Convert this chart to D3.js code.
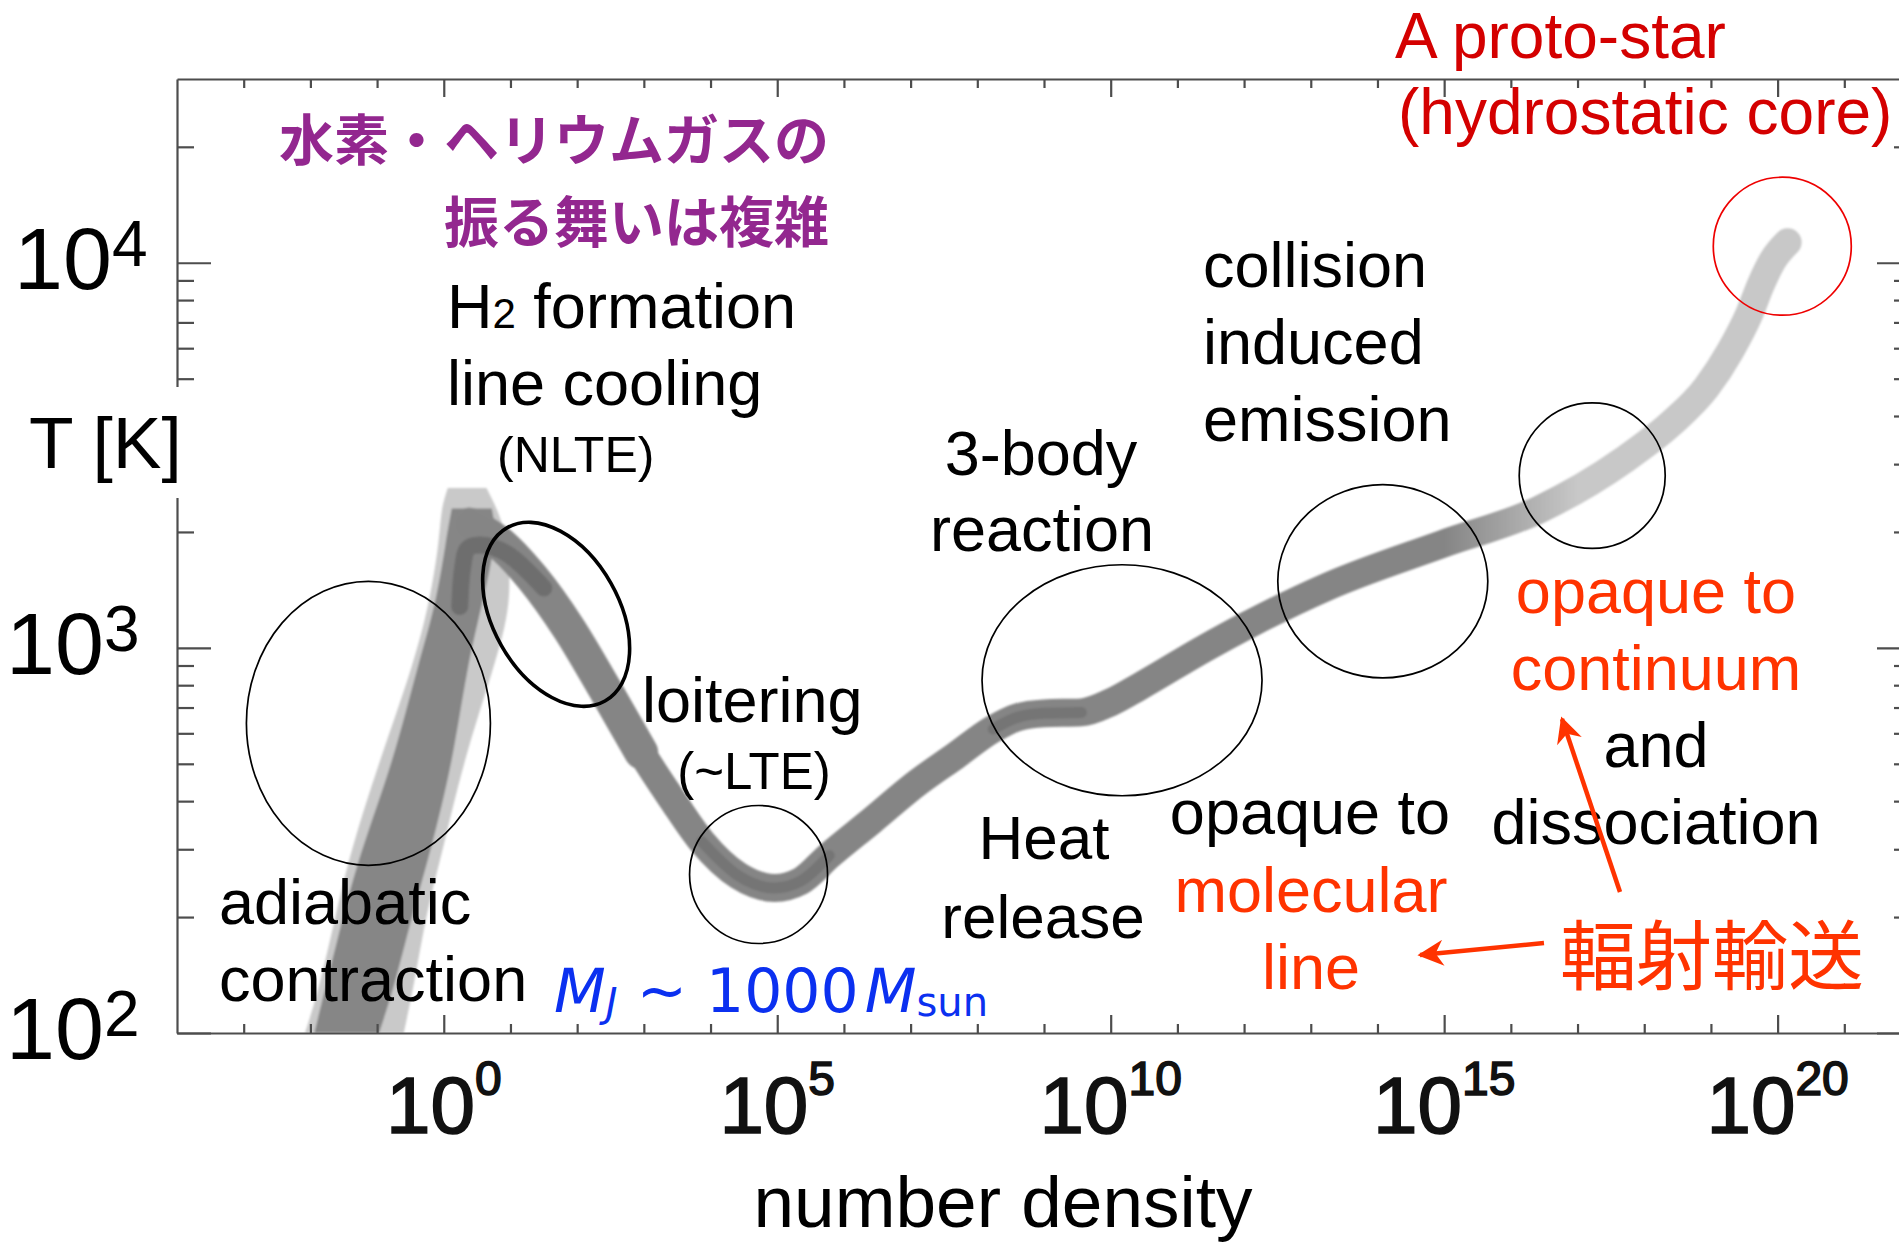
<!DOCTYPE html>
<html>
<head>
<meta charset="utf-8">
<script src="https://d3js.org/d3.v7.min.js"></script>
<style>
body { margin: 0; background: #fff; }
svg { display: block; font-family: 'Liberation Sans', Arial, sans-serif; }
.axis path, .axis line { stroke: #4d4d4d; stroke-width: 2.2; fill: none; }
</style>
</head>
<body>
<svg width="1899" height="1242"></svg>
<script>
// tick exponents
var xTickExps = [0, 5, 10, 15, 20];
var yTickExps = [2, 3, 4];

// adiabatic collapse branch: spread in log10(n) at each temperature
var collapseT  = [100, 132, 210, 295, 512, 877, 1308, 1940, 2300];
var collapseLo = [-1.94, -1.77, -1.48, -1.25, -0.75, -0.41, -0.11, 0.04, 0.12];
var collapseHi = [-0.97, -0.74, -0.45, -0.20, 0.14, 0.34, 0.58, 0.80, 0.72];

// lighter envelope around the collapse branch
var envelopeT  = [100, 132, 210, 295, 512, 877, 1308, 1940, 2300, 2600];
var envelopeLo = [-2.08, -1.86, -1.60, -1.40, -0.96, -0.48, -0.21, -0.06, -0.04, 0.06];
var envelopeHi = [-0.60, -0.45, -0.25, -0.02, 0.30, 0.74, 1.03, 0.95, 0.80, 0.64];

// main thermal track after the peak (log10 n, T)
var trackLogN = [0.39, 0.79, 1.33, 1.88, 2.42, 2.96, 3.42, 3.87, 4.42, 4.96, 5.35, 5.78, 6.41, 7.1, 7.67, 8.24, 8.6, 9.0, 9.56, 10.0, 10.43, 11.4, 12.07, 13.26, 14.97, 16.41, 17.7, 18.4, 18.93, 19.29, 19.57, 19.75, 19.93, 20.15];
var trackT    = [2090, 1900, 1520, 1120, 780, 536, 405, 314, 256, 238, 248, 289, 355, 446, 524, 616, 660, 676, 680, 722, 793, 995, 1150, 1445, 1860, 2280, 3080, 3820, 4740, 5900, 7330, 8790, 10160, 11300];

// darker core at the temperature peak
var peakCoreLogN = [0.24, 0.28, 0.36, 0.54, 0.94, 1.5];
var peakCoreT    = [1280, 1600, 1810, 1850, 1760, 1430];

var svg = d3.select('svg');
var width = +svg.attr('width');
var height = +svg.attr('height');
var plot = {left: 177, right: 1911, top: 79, bottom: 1033};

var xScale = d3.scaleLog().domain([1e-4, 1e22]).range([plot.left, plot.right]);
var yScale = d3.scaleLog().domain([100, 3e4]).range([plot.bottom, plot.top]);
var xN = function(e) { return xScale(Math.pow(10, e)); };

var defs = svg.append('defs');
defs.append('clipPath').attr('id', 'plotClip')
    .append('rect')
    .attr('x', plot.left).attr('y', plot.top)
    .attr('width', plot.right - plot.left).attr('height', plot.bottom - plot.top);
defs.append('filter').attr('id', 'soft')
    .append('feGaussianBlur').attr('stdDeviation', 1.1);
var grad = defs.append('linearGradient').attr('id', 'bandGrad')
    .attr('gradientUnits', 'userSpaceOnUse')
    .attr('x1', xN(15.0)).attr('x2', xN(17.0)).attr('y1', 0).attr('y2', 0);
grad.append('stop').attr('offset', 0).attr('stop-color', '#858585');
grad.append('stop').attr('offset', 1).attr('stop-color', '#c8c8c8');
defs.append('marker').attr('id', 'head')
    .attr('viewBox', '0 0 10 10').attr('refX', 9).attr('refY', 5)
    .attr('markerUnits', 'userSpaceOnUse')
    .attr('markerWidth', 32).attr('markerHeight', 26)
    .attr('orient', 'auto')
    .append('path').attr('d', 'M0,0 L10,5 L0,10 L3,5 Z').attr('fill', '#ff3300');

// ---- the gray band ----
var bandG = svg.append('g').attr('clip-path', 'url(#plotClip)')
    .append('g').attr('filter', 'url(#soft)');

var rows = function(Ts, lo, hi) {
    return Ts.map(function(t, i) { return {T: t, lo: lo[i], hi: hi[i]}; });
};
var spreadArea = d3.area()
    .y(function(d) { return yScale(d.T); })
    .x0(function(d) { return xN(d.lo); })
    .x1(function(d) { return xN(d.hi); })
    .curve(d3.curveBasis);

bandG.append('path')
    .datum(rows(envelopeT, envelopeLo, envelopeHi))
    .attr('d', spreadArea)
    .attr('fill', '#c9c9c9');
bandG.append('path')
    .datum(rows(collapseT, collapseLo, collapseHi))
    .attr('d', spreadArea)
    .attr('fill', '#868686');

var track = trackLogN.map(function(e, i) { return {logN: e, T: trackT[i]}; });
var trackLine = d3.line()
    .x(function(d) { return xN(d.logN); })
    .y(function(d) { return yScale(d.T); })
    .curve(d3.curveMonotoneX);

// wider part right after the peak
bandG.append('path')
    .datum(track.filter(function(d) { return d.logN <= 3.0; }))
    .attr('d', trackLine)
    .attr('fill', 'none')
    .attr('stroke', '#868686')
    .attr('stroke-width', 34)
    .attr('stroke-linecap', 'round');
bandG.append('path')
    .datum(track)
    .attr('d', trackLine)
    .attr('fill', 'none')
    .attr('stroke', 'url(#bandGrad)')
    .attr('stroke-width', 28)
    .attr('stroke-linecap', 'round')
    .attr('stroke-linejoin', 'round');

// darker cores
[[3.8, 5.8], [7.9, 9.7]].forEach(function(r) {
    bandG.append('path')
        .datum(track.filter(function(d) { return d.logN >= r[0] && d.logN <= r[1]; }))
        .attr('d', trackLine)
        .attr('fill', 'none')
        .attr('stroke', '#707070')
        .attr('stroke-width', 11)
        .attr('stroke-linecap', 'round')
        .attr('opacity', 0.8);
});
bandG.append('path')
    .datum(peakCoreLogN.map(function(e, i) { return {logN: e, T: peakCoreT[i]}; }))
    .attr('d', d3.line()
        .x(function(d) { return xN(d.logN); })
        .y(function(d) { return yScale(d.T); })
        .curve(d3.curveCatmullRom.alpha(0.5)))
    .attr('fill', 'none')
    .attr('stroke', '#6e6e6e')
    .attr('stroke-width', 17)
    .attr('stroke-linecap', 'round');

// ---- axes ----
var decades = d3.range(-3, 22).map(function(e) { return Math.pow(10, e); });
var isMajorX = function(v) { return Math.round(Math.log10(v)) % 5 === 0; };
var majorX = decades.filter(isMajorX);
var minorX = decades.filter(function(v) { return !isMajorX(v); });

var yMajor = [100, 1000, 10000];
var yMinor = [];
[100, 1000, 10000].forEach(function(b) {
    d3.range(2, 10).forEach(function(m) { if (b * m < 3e4) yMinor.push(b * m); });
});

function drawAxis(maker, pos, tvals, size, keepDomain) {
    var g = svg.append('g')
        .attr('class', 'axis')
        .attr('transform', pos)
        .call(maker.tickValues(tvals).tickSize(size).tickSizeOuter(0).tickFormat(''));
    if (!keepDomain) g.select('.domain').remove();
    return g;
}
drawAxis(d3.axisTop(xScale), 'translate(0,' + plot.bottom + ')', majorX, 18, true);
drawAxis(d3.axisTop(xScale), 'translate(0,' + plot.bottom + ')', minorX, 9, false);
drawAxis(d3.axisBottom(xScale), 'translate(0,' + plot.top + ')', majorX, 18, true);
drawAxis(d3.axisBottom(xScale), 'translate(0,' + plot.top + ')', minorX, 9, false);
drawAxis(d3.axisRight(yScale), 'translate(' + plot.left + ',0)', yMajor, 34, true);
drawAxis(d3.axisRight(yScale), 'translate(' + plot.left + ',0)', yMinor, 17, false);
drawAxis(d3.axisLeft(yScale), 'translate(' + plot.right + ',0)', yMajor, 34, true);
drawAxis(d3.axisLeft(yScale), 'translate(' + plot.right + ',0)', yMinor, 17, false);

// x tick labels
var xLab = svg.append('g').selectAll('text')
    .data(xTickExps).enter()
    .append('text')
    .attr('x', function(d) { return xN(d); })
    .attr('y', 1133)
    .attr('text-anchor', 'middle')
    .attr('font-size', 80)
    .attr('fill', '#111')
    .attr('stroke', '#111')
    .attr('stroke-width', 1.6);
xLab.append('tspan').text('10');
xLab.append('tspan').attr('font-size', 48).attr('dy', -38).text(function(d) { return d; });

// y tick labels
var yLab = svg.append('g').selectAll('text')
    .data(yTickExps).enter()
    .append('text')
    .attr('x', function(d) { return d === 4 ? 14 : 6; })
    .attr('y', function(d) { return yScale(Math.pow(10, d)) + 26; })
    .attr('font-size', 88)
    .attr('fill', '#000');
yLab.append('tspan').text('10');
yLab.append('tspan').attr('font-size', 64).attr('dy', -23).text(function(d) { return d; });

// axis titles
svg.append('rect').attr('x', 18).attr('y', 387).attr('width', 180).attr('height', 111).attr('fill', '#fff');
svg.append('text').attr('x', 29).attr('y', 468).attr('font-size', 73).text('T [K]');
svg.append('text').attr('x', 1003).attr('y', 1227).attr('font-size', 73)
    .attr('text-anchor', 'middle').text('number density');

// ---- highlight ellipses (centre in data units) ----
var rings = [
    {logN: -1.13, T: 637, rx: 122, ry: 142, rot: 0, w: 1.7, c: '#000'},
    {logN: 1.685, T: 1222, rx: 99.5, ry: 63, rot: 60.6, w: 3.6, c: '#000'},
    {logN: 4.72, T: 258, rx: 69, ry: 69, rot: 0, w: 1.7, c: '#000'},
    {logN: 10.17, T: 824, rx: 140, ry: 115.5, rot: 0, w: 1.7, c: '#000'},
    {logN: 14.08, T: 1489, rx: 105, ry: 96.6, rot: 0, w: 1.7, c: '#000'},
    {logN: 17.22, T: 2800, rx: 73, ry: 72.7, rot: 0, w: 1.7, c: '#000'},
    {logN: 20.07, T: 11040, rx: 69, ry: 69, rot: 0, w: 1.7, c: '#ee0000'}
];
svg.append('g').selectAll('ellipse')
    .data(rings).enter()
    .append('ellipse')
    .attr('transform', function(d) {
        return 'translate(' + [xN(d.logN), yScale(d.T)] + ') rotate(' + d.rot + ')';
    })
    .attr('rx', function(d) { return d.rx; })
    .attr('ry', function(d) { return d.ry; })
    .attr('fill', 'none')
    .attr('stroke', function(d) { return d.c; })
    .attr('stroke-width', function(d) { return d.w; });

// ---- annotations ----
var BLACK = '#000', RED = '#d40000', ORANGE = '#ff3300', PURPLE = '#93278f', BLUE = '#0b30f0';
var notes = [
    ['A proto-star', 1395, 58, 64, RED, 'start'],
    ['(hydrostatic core)', 1398, 134, 64, RED, 'start'],
    ['line cooling', 447, 405, 63, BLACK, 'start'],
    ['(NLTE)', 497, 472, 50, BLACK, 'start'],
    ['collision', 1203, 287, 63, BLACK, 'start'],
    ['induced', 1203, 364, 63, BLACK, 'start'],
    ['emission', 1203, 441, 63, BLACK, 'start'],
    ['3-body', 1041, 475, 63, BLACK, 'middle'],
    ['reaction', 1042, 551, 63, BLACK, 'middle'],
    ['loitering', 642, 722, 63, BLACK, 'start'],
    ['(~LTE)', 754, 789, 51, BLACK, 'middle'],
    ['Heat', 1044, 859, 62, BLACK, 'middle'],
    ['release', 1043, 938, 62, BLACK, 'middle'],
    ['opaque to', 1310, 834, 63, BLACK, 'middle'],
    ['molecular', 1311, 912, 63, ORANGE, 'middle'],
    ['line', 1311, 989, 63, ORANGE, 'middle'],
    ['opaque to', 1656, 613, 63, ORANGE, 'middle'],
    ['continuum', 1656, 690, 63, ORANGE, 'middle'],
    ['and', 1656, 767, 63, BLACK, 'middle'],
    ['dissociation', 1656, 844, 63, BLACK, 'middle'],
    ['adiabatic', 219, 924, 63, BLACK, 'start'],
    ['contraction', 219, 1001, 63, BLACK, 'start']
];
svg.append('g').selectAll('text')
    .data(notes).enter()
    .append('text')
    .attr('x', function(d) { return d[1]; })
    .attr('y', function(d) { return d[2]; })
    .attr('font-size', function(d) { return d[3]; })
    .attr('fill', function(d) { return d[4]; })
    .attr('text-anchor', function(d) { return d[5]; })
    .text(function(d) { return d[0]; });

var h2 = svg.append('text').attr('x', 447).attr('y', 328).attr('font-size', 63);
h2.append('tspan').text('H');
h2.append('tspan').attr('font-size', 42).text('2');
h2.append('tspan').text(' formation');

var jp = svg.append('g')
    .attr('font-family', "'Noto Sans CJK JP', sans-serif")
    .attr('font-weight', 700)
    .attr('fill', PURPLE)
    .attr('font-size', 55)
    .attr('text-anchor', 'end');
jp.append('text').attr('x', 829).attr('y', 160).text('水素・ヘリウムガスの');
jp.append('text').attr('x', 829).attr('y', 242).text('振る舞いは複雑');

svg.append('text')
    .attr('x', 1560).attr('y', 984)
    .attr('font-family', "'Noto Sans CJK JP', sans-serif")
    .attr('font-size', 76)
    .attr('fill', ORANGE)
    .text('輻射輸送');

var mj = svg.append('text')
    .attr('x', 554).attr('y', 1012)
    .attr('font-family', "'DejaVu Sans', sans-serif")
    .attr('font-size', 60)
    .attr('fill', BLUE);
mj.append('tspan').attr('font-style', 'italic').text('M');
mj.append('tspan').attr('font-style', 'italic').attr('font-size', 40).attr('dy', 5).text('J');
mj.append('tspan').attr('dy', -5).text(' ~ 1000');
mj.append('tspan').attr('font-style', 'italic').attr('dx', 6).text('M');
mj.append('tspan').attr('font-size', 40).attr('dy', 4).text('sun');

// ---- arrows ----
var arrows = [
    [[1620, 892], [1562, 719]],
    [[1544, 943], [1420, 955]]
];
svg.append('g').selectAll('path')
    .data(arrows).enter()
    .append('path')
    .attr('d', function(d) { return d3.line()(d); })
    .attr('stroke', ORANGE)
    .attr('stroke-width', 4.5)
    .attr('fill', 'none')
    .attr('marker-end', 'url(#head)');
</script>
</body>
</html>
